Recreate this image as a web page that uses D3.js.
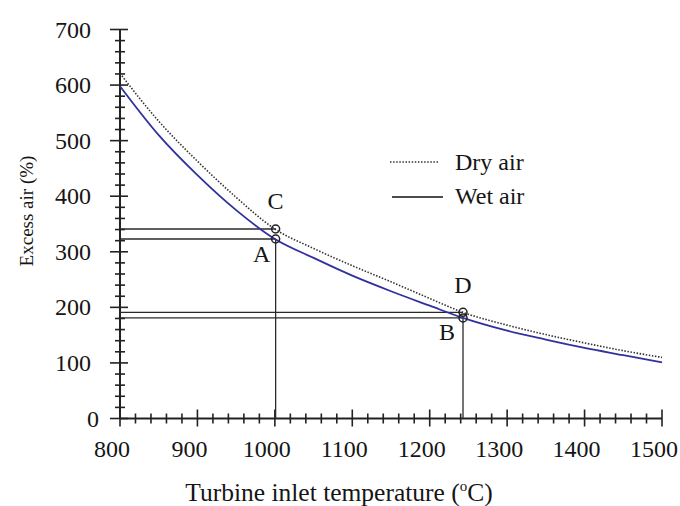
<!DOCTYPE html>
<html><head><meta charset="utf-8">
<script src="https://cdn.jsdelivr.net/npm/d3@7"></script>
<style>
html,body{margin:0;padding:0;background:#fff;}
svg text{font-family:"Liberation Serif","Times New Roman",serif;fill:#151515;}
</style></head>
<body><svg id="chart" width="680" height="506"></svg>
<script>
// Data
const temps   = [800, 850, 900, 950, 1000, 1050, 1100, 1150, 1200, 1243, 1300, 1350, 1400, 1450, 1500];
const dryAir  = [621, 535, 463, 398, 341, 306, 275, 246, 216, 191, 168, 151, 136, 122, 110];
const wetAir  = [598, 510, 438, 375, 323, 289, 257, 229, 203, 181, 158, 142, 127, 114, 101];
const points  = [
  {label:"C", t:1001, v:341, dx:0,   dy:-20},
  {label:"A", t:1001, v:323, dx:-14, dy:23},
  {label:"D", t:1243, v:191, dx:0,   dy:-19},
  {label:"B", t:1243, v:181, dx:-16, dy:22}
];
const xTicks = [800, 900, 1000, 1100, 1200, 1300, 1400, 1500];
const yTicks = [0, 100, 200, 300, 400, 500, 600, 700];

const svg = d3.select("#chart");
const x = d3.scaleLinear().domain([800, 1500]).range([120, 662]);
const y = d3.scaleLinear().domain([0, 700]).range([418.5, 29.5]);

const minorX = d3.range(800, 1501, 20).filter(v => v % 100 !== 0);
const minorY = d3.range(0, 701, 20).filter(v => v % 100 !== 0);

const axisCol = "#222";
// Axis lines
svg.append("line").attr("x1", x(800)).attr("x2", x(1500)).attr("y1", y(0)).attr("y2", y(0))
  .attr("stroke", axisCol).attr("stroke-width", 2);
svg.append("line").attr("x1", x(800)).attr("x2", x(800)).attr("y1", y(0)).attr("y2", y(700))
  .attr("stroke", axisCol).attr("stroke-width", 2);

// X ticks
svg.selectAll(".xmaj").data(xTicks).join("line")
  .attr("x1", d => x(d)).attr("x2", d => x(d)).attr("y1", y(0) - 9).attr("y2", y(0) + 8)
  .attr("stroke", axisCol).attr("stroke-width", 1.6);
svg.selectAll(".xmin").data(minorX).join("line")
  .attr("x1", d => x(d)).attr("x2", d => x(d)).attr("y1", y(0) - 5).attr("y2", y(0) + 5)
  .attr("stroke", axisCol).attr("stroke-width", 1.6);
// Y ticks
svg.selectAll(".ymaj").data(yTicks).join("line")
  .attr("y1", d => y(d)).attr("y2", d => y(d)).attr("x1", x(800) - 10).attr("x2", x(800) + 8)
  .attr("stroke", axisCol).attr("stroke-width", 1.6);
svg.selectAll(".ymin").data(minorY).join("line")
  .attr("y1", d => y(d)).attr("y2", d => y(d)).attr("x1", x(800) - 5).attr("x2", x(800) + 5)
  .attr("stroke", axisCol).attr("stroke-width", 1.6);

// Tick labels
svg.selectAll(".xl").data(xTicks).join("text")
  .attr("x", d => x(d) - 8).attr("y", y(0) + 38).attr("text-anchor", "middle")
  .attr("font-size", 24).text(d => d);
svg.selectAll(".yl").data(yTicks).join("text")
  .attr("x", d => d === 0 ? 99 : 91).attr("y", d => y(d) + 8).attr("text-anchor", "end")
  .attr("font-size", 24).text(d => d);

// Axis titles
const xt = svg.append("text").attr("x", 339).attr("y", 501).attr("text-anchor", "middle").attr("font-size", 25.5);
xt.append("tspan").text("Turbine inlet temperature (");
xt.append("tspan").attr("font-size", 15).attr("dy", -10).text("o");
xt.append("tspan").attr("dy", 10).text("C)");
svg.append("text").attr("transform", "translate(33,211) rotate(-90)").attr("text-anchor", "middle")
  .attr("font-size", 19).text("Excess air (%)");

// Reference lines
const refCol = "#2a2a2a";
points.forEach(p => {
  svg.append("line").attr("x1", x(800)).attr("x2", x(p.t)).attr("y1", y(p.v)).attr("y2", y(p.v))
    .attr("stroke", refCol).attr("stroke-width", 1.3);
});
points.filter(p => p.label === "A" || p.label === "B").forEach(p => {
  svg.append("line").attr("x1", x(p.t)).attr("x2", x(p.t)).attr("y1", y(0)).attr("y2", y(p.v))
    .attr("stroke", refCol).attr("stroke-width", 1.3);
});

// Curves
const line = d3.line().x(d => x(d[0])).y(d => y(d[1])).curve(d3.curveMonotoneX);
svg.append("path").datum(temps.map((t, i) => [t, dryAir[i]])).attr("d", line)
  .attr("fill", "none").attr("stroke", "#333").attr("stroke-width", 1.6).attr("stroke-dasharray", "1.5,1.6");
svg.append("path").datum(temps.map((t, i) => [t, wetAir[i]])).attr("d", line)
  .attr("fill", "none").attr("stroke", "#30309e").attr("stroke-width", 1.8);

// Points
svg.selectAll(".pt").data(points).join("circle")
  .attr("cx", d => x(d.t)).attr("cy", d => y(d.v)).attr("r", 4)
  .attr("fill", "none").attr("stroke", "#222").attr("stroke-width", 1.5);
svg.selectAll(".ptl").data(points).join("text")
  .attr("x", d => x(d.t) + d.dx).attr("y", d => y(d.v) + d.dy).attr("text-anchor", "middle")
  .attr("font-size", 24).text(d => d.label);

// Legend
svg.append("line").attr("x1", 390).attr("x2", 438).attr("y1", 162).attr("y2", 162)
  .attr("stroke", "#333").attr("stroke-width", 1.6).attr("stroke-dasharray", "1.5,1.6");
svg.append("line").attr("x1", 392).attr("x2", 443).attr("y1", 197).attr("y2", 197)
  .attr("stroke", "#111").attr("stroke-width", 1.6);
svg.append("text").attr("x", 455).attr("y", 170).attr("font-size", 24).text("Dry air");
svg.append("text").attr("x", 455).attr("y", 204).attr("font-size", 24).text("Wet air");
</script></body></html>
